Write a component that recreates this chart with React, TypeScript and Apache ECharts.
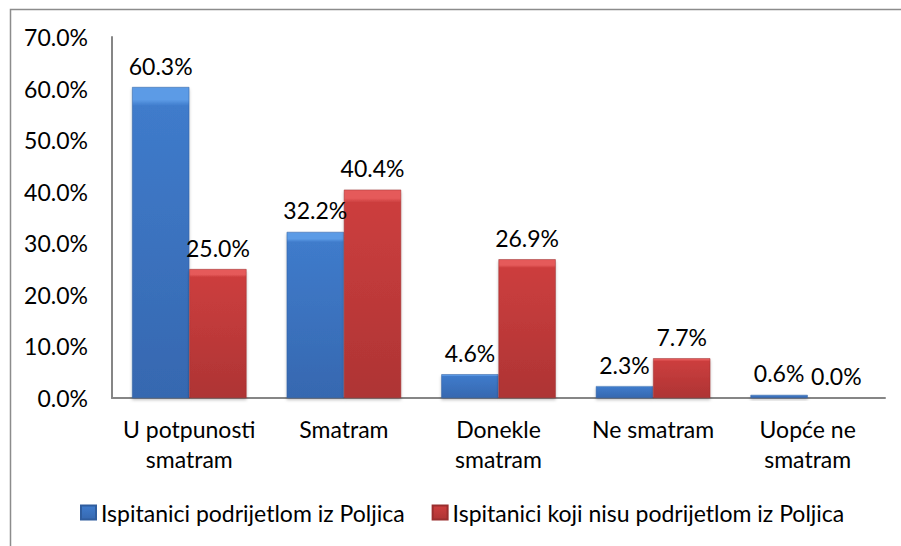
import React, { useEffect, useRef } from "react";
import * as echarts from "echarts";

const categories = ["U potpunosti\nsmatram", "Smatram", "Donekle\nsmatram", "Ne smatram", "Uopće ne\nsmatram"];
const seriesNames = ["Ispitanici podrijetlom iz Poljica", "Ispitanici koji nisu podrijetlom iz Poljica"];
const fromPoljica = [60.3, 32.2, 4.6, 2.3, 0.6];
const notFromPoljica = [25.0, 40.4, 26.9, 7.7, 0.0];
const yTicks = { min: 0, max: 70, interval: 10 };

const FONT = "Lato";
const FS = 23;

export default function App() {
  const ref = useRef<HTMLDivElement>(null);
  useEffect(() => {
    if (!ref.current) return;
    const chart = echarts.init(ref.current, undefined, { renderer: "svg" });
    const grad = (top: string, bottom: string) =>
      new echarts.graphic.LinearGradient(0, 0, 0, 1, [
        { offset: 0, color: top },
        { offset: 0.04, color: top },
        { offset: 0.06, color: bottom === "#3668B0" ? "#3F7BCB" : "#CC3E3E" },
        { offset: 1, color: bottom },
      ]);
    const blue = grad("#5C9BE6", "#3668B0");
    const red = grad("#E55A5A", "#AE3434");
    const label = {
      show: true,
      position: "top" as const,
      distance: 10,
      color: "#000",
      fontFamily: FONT,
      fontSize: FS,
      formatter: (p: any) => Number(p.value).toFixed(1) + "%",
    };
    chart.setOption({
      animation: false,
      backgroundColor: "#fff",
      textStyle: { fontFamily: FONT },
      graphic: [
        {
          type: "rect",
          shape: { x: 10.5, y: 9.5, width: 1000, height: 1000 },
          style: { fill: "none", stroke: "#8c8c8c", lineWidth: 1.5 },
          silent: true,
        },
      ],
      grid: { left: 112, right: 16, top: 37, bottom: 148, containLabel: false },
      legend: {
        left: 80,
        top: 501,
        padding: 0,
        itemWidth: 15,
        itemHeight: 14,
        itemGap: 27,
        textStyle: { fontFamily: FONT, fontSize: FS, color: "#000" },
        data: [
          { name: seriesNames[0], icon: "rect" },
          { name: seriesNames[1], icon: "rect" },
        ],
      },
      xAxis: {
        type: "category",
        data: categories,
        axisLine: { show: true, lineStyle: { color: "#868686", width: 2 } },
        axisTick: { show: false },
        axisLabel: {
          interval: 0,
          margin: 16,
          color: "#000",
          fontFamily: FONT,
          fontSize: FS,
          lineHeight: 30,
        },
      },
      yAxis: {
        type: "value",
        min: yTicks.min,
        max: yTicks.max,
        interval: yTicks.interval,
        axisLine: { show: true, lineStyle: { color: "#868686", width: 2 } },
        axisTick: { show: false },
        splitLine: { show: false },
        axisLabel: {
          margin: 24,
          color: "#000",
          fontFamily: FONT,
          fontSize: FS,
          formatter: (v: number) => v.toFixed(1) + "%",
        },
      },
      series: [
        {
          name: seriesNames[0],
          type: "bar",
          data: fromPoljica,
          barGap: "0%",
          barCategoryGap: "26%",
          itemStyle: {
            color: blue,
            borderColor: "#2f5d9e",
            borderWidth: 0.5,
            shadowColor: "rgba(0,0,0,0.25)",
            shadowBlur: 3,
            shadowOffsetY: 2,
          },
          label,
        },
        {
          name: seriesNames[1],
          type: "bar",
          data: notFromPoljica,
          itemStyle: {
            color: red,
            borderColor: "#9a2e2e",
            borderWidth: 0.5,
            shadowColor: "rgba(0,0,0,0.25)",
            shadowBlur: 3,
            shadowOffsetY: 2,
          },
          label,
        },
      ],
    });
    return () => chart.dispose();
  }, []);
  return (
    <div
      ref={ref}
      style={{ position: "absolute", left: 0, top: 0, width: 901, height: 546 }}
    />
  );
}
